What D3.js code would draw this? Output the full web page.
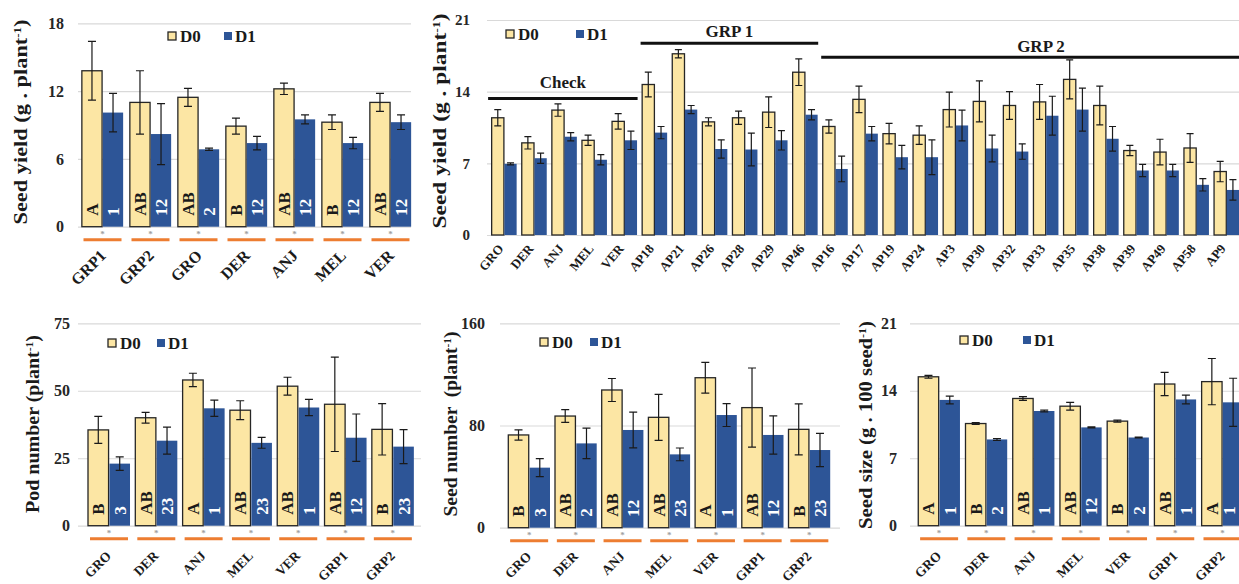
<!DOCTYPE html>
<html>
<head>
<meta charset="utf-8">
<script src="https://cdn.jsdelivr.net/npm/d3@7"></script>
<style>
  body { margin: 0; background: #fff; }
  svg { display: block; }
  svg text { font-family: "Liberation Serif", "DejaVu Serif", "Times New Roman", serif; font-weight: bold; }
</style>
</head>
<body>
<script>
// ---- seed yield, group means (top left)
var grpCats = ["GRP1", "GRP2", "GRO", "DER", "ANJ", "MEL", "VER"];
var grpYieldD0 = [13.8, 11.0, 11.45, 8.9, 12.2, 9.25, 11.0];
var grpYieldD0Err = [2.6, 2.8, 0.8, 0.7, 0.5, 0.65, 0.8];
var grpYieldD1 = [10.1, 8.2, 6.85, 7.4, 9.5, 7.4, 9.25];
var grpYieldD1Err = [1.7, 2.7, 0.1, 0.6, 0.4, 0.5, 0.65];
var grpYieldD0Lab = ["A", "AB", "AB", "B", "AB", "B", "AB"];
var grpYieldD1Lab = ["1", "12", "2", "12", "12", "12", "12"];

// ---- seed yield per genotype (top right)
var genoCats = ["GRO", "DER", "ANJ", "MEL", "VER", "AP18", "AP21", "AP26", "AP28", "AP29", "AP46",
  "AP16", "AP17", "AP19", "AP24", "AP3", "AP30", "AP32", "AP33", "AP35", "AP38", "AP39", "AP49", "AP58", "AP9"];
var genoD0 = [11.45, 9.0, 12.2, 9.25, 11.1, 14.7, 17.7, 11.05, 11.45, 12.0, 15.9,
  10.6, 13.25, 9.9, 9.75, 12.25, 13.05, 12.65, 13.0, 15.2, 12.65, 8.25, 8.1, 8.5, 6.2];
var genoD0Err = [0.8, 0.6, 0.6, 0.5, 0.75, 1.2, 0.4, 0.4, 0.65, 1.5, 1.3,
  0.65, 1.3, 1.0, 0.9, 1.7, 2.0, 1.35, 1.7, 1.9, 1.9, 0.5, 1.25, 1.4, 1.0];
var genoD1 = [6.95, 7.5, 9.6, 7.35, 9.25, 10.0, 12.25, 8.4, 8.35, 9.25, 11.75,
  6.45, 9.9, 7.6, 7.6, 10.7, 8.45, 8.15, 11.65, 12.25, 9.4, 6.3, 6.3, 4.9, 4.4];
var genoD1Err = [0.1, 0.5, 0.4, 0.5, 0.9, 0.6, 0.4, 0.9, 1.6, 0.95, 0.5,
  1.25, 0.7, 1.15, 1.7, 1.5, 1.3, 0.75, 1.9, 2.1, 1.2, 0.6, 0.6, 0.6, 1.0];
var genoGroups = [
  {name: "Check", from: 0, to: 4},
  {name: "GRP 1", from: 5, to: 10},
  {name: "GRP 2", from: 11, to: 24}
];

// ---- bottom row categories
var compCats = ["GRO", "DER", "ANJ", "MEL", "VER", "GRP1", "GRP2"];

var podD0 = [35.5, 40, 54, 42.8, 51.7, 45, 35.7];
var podD0Err = [5, 2, 2.5, 3.5, 3.3, 17.5, 9.5];
var podD1 = [23, 31.5, 43.5, 30.7, 43.8, 32.6, 29.3];
var podD1Err = [2.5, 5, 3, 2, 3, 8.8, 6.3];
var podD0Lab = ["B", "AB", "A", "AB", "AB", "AB", "B"];
var podD1Lab = ["3", "23", "1", "23", "1", "12", "23"];

var seedD0 = [72.6, 87.4, 107.8, 86.4, 117.4, 94, 77];
var seedD0Err = [4, 5, 9, 18, 12, 31, 20];
var seedD1 = [47, 66, 76.5, 57.4, 88.2, 72.6, 60.8];
var seedD1Err = [7, 12, 14, 5, 9, 15, 13];
var seedD0Lab = ["B", "AB", "AB", "AB", "A", "AB", "B"];
var seedD1Lab = ["3", "2", "12", "23", "1", "12", "23"];

var sizeD0 = [15.45, 10.6, 13.2, 12.4, 10.85, 14.7, 14.95];
var sizeD0Err = [0.15, 0.1, 0.2, 0.4, 0.1, 1.2, 2.4];
var sizeD1 = [13.05, 8.95, 11.9, 10.2, 9.15, 13.1, 12.8];
var sizeD1Err = [0.4, 0.1, 0.1, 0.05, 0.05, 0.45, 2.5];
var sizeD0Lab = ["A", "B", "AB", "AB", "B", "AB", "A"];
var sizeD1Lab = ["1", "2", "1", "12", "2", "1", "1"];

var colD0 = "#FCE6A4", colD1 = "#2D5597", colOrange = "#ED7D31";
var serif = "'Liberation Serif', 'DejaVu Serif', 'Times New Roman', serif";
var W = 1239, H = 584;

var svg = d3.select("body").append("svg")
  .attr("width", W)
  .attr("height", H)
  .attr("font-family", serif)
  .attr("font-weight", "bold");

function drawPanel(o) {
  var g = svg.append("g");

  var x = d3.scaleBand().domain(o.cats).range(o.xr).paddingInner(o.pad).paddingOuter(o.pad / 2);
  var xs = d3.scaleBand().domain(["D0", "D1"]).range([0, x.bandwidth()]).paddingInner(0.04);
  var y = d3.scaleLinear().domain([0, o.max]).range([o.base, o.top]);

  // grid + tick labels
  var axis = d3.axisLeft(y).tickValues(o.ticks)
    .tickSize(-(o.gx[1] - o.gx[0])).tickPadding(o.tp).tickFormat(d3.format("d"));
  var ax = g.append("g").attr("transform", "translate(" + o.gx[0] + ",0)").call(axis)
    .attr("font-family", serif).attr("font-size", null);
  ax.select(".domain").remove();
  ax.selectAll(".tick line").attr("stroke", "#d9d9d9").attr("stroke-width", 1.2);
  ax.selectAll(".tick text").attr("font-size", o.tickSize || 16).attr("fill", "#262626");

  var rows = o.cats.map(function(c, i) {
    return {cat: c, vals: [
      {k: "D0", v: o.d0[i], e: o.e0[i], lab: o.l0 ? o.l0[i] : null},
      {k: "D1", v: o.d1[i], e: o.e1[i], lab: o.l1 ? o.l1[i] : null}
    ]};
  });

  var grp = g.selectAll(".grp").data(rows).enter().append("g")
    .attr("transform", function(d) { return "translate(" + x(d.cat) + ",0)"; });

  var bar = grp.selectAll(".bar").data(function(d) { return d.vals; }).enter().append("g");

  bar.append("rect")
    .attr("x", function(d) { return xs(d.k); })
    .attr("y", function(d) { return y(d.v); })
    .attr("width", xs.bandwidth())
    .attr("height", function(d) { return o.base - y(d.v); })
    .attr("fill", function(d) { return d.k === "D0" ? colD0 : colD1; })
    .attr("stroke", function(d) { return d.k === "D0" ? "#262626" : "none"; })
    .attr("stroke-width", 1.3);

  // error bars
  var cap = o.cap || 4;
  bar.append("path")
    .attr("d", function(d) {
      var cx = xs(d.k) + xs.bandwidth() / 2, y0 = y(d.v - d.e), y1 = y(d.v + d.e);
      return "M" + cx + "," + y0 + "V" + y1 +
        "M" + (cx - cap) + "," + y1 + "H" + (cx + cap) +
        "M" + (cx - cap) + "," + y0 + "H" + (cx + cap);
    })
    .attr("stroke", "#1a1a1a").attr("stroke-width", 1.2).attr("fill", "none");

  // letters inside bars (kept inside the picture where the bar runs off the edge)
  if (o.l0) {
    bar.append("text")
      .attr("transform", function(d) {
        var p = d3.select(this.parentNode.parentNode).datum();
        var cx = xs(d.k) + xs.bandwidth() / 2;
        cx = Math.min(cx, W - 10 - x(p.cat));
        return "translate(" + cx + "," + (o.base - 11) + ") rotate(-90)";
      })
      .attr("dy", "0.35em")
      .attr("font-size", 17)
      .attr("fill", function(d) { return d.k === "D0" ? "#1a1a1a" : "#fff"; })
      .text(function(d) { return d.lab; });
  }

  // asterisk + orange line under each pair
  if (o.marks) {
    grp.append("text")
      .attr("x", x.bandwidth() / 2).attr("y", o.base + 10)
      .attr("text-anchor", "middle").attr("font-size", 9).attr("fill", "#a0a0a0")
      .text("*");
    grp.append("line")
      .attr("x1", x.bandwidth() / 2 - 19).attr("x2", x.bandwidth() / 2 + 19)
      .attr("y1", o.base + 13).attr("y2", o.base + 13)
      .attr("stroke", colOrange).attr("stroke-width", 3);
  }

  // category labels
  grp.append("text")
    .attr("transform", "translate(" + (x.bandwidth() / 2 + o.lx) + "," + (o.base + o.ly) + ") rotate(" + (-o.angle) + ")")
    .attr("text-anchor", "end")
    .attr("font-size", o.catSize)
    .attr("fill", "#1a1a1a")
    .text(function(d) { return d.cat; });

  // y label
  var yl = g.append("text")
    .attr("transform", "translate(" + o.yl.x + "," + o.yl.y + ") rotate(-90)")
    .attr("text-anchor", "middle")
    .attr("font-size", 19)
    .attr("fill", "#1a1a1a")
    .attr("textLength", o.yl.len)
    .attr("lengthAdjust", "spacingAndGlyphs")
    .style("white-space", "pre");
  yl.append("tspan").text(o.yl.text);
  yl.append("tspan").attr("baseline-shift", "super").attr("font-size", 11).text("-1");
  yl.append("tspan").text(")");

  // legend
  var lg = g.append("g").attr("transform", "translate(" + o.lg[0] + "," + o.lg[1] + ")");
  lg.append("rect").attr("x", 0).attr("y", -4).attr("width", 8).attr("height", 8)
    .attr("fill", colD0).attr("stroke", "#262626").attr("stroke-width", 1.3);
  lg.append("text").attr("x", 12).attr("y", 6).attr("font-size", 17).attr("fill", "#1a1a1a").text("D0");
  lg.append("rect").attr("x", o.lg[2]).attr("y", -4).attr("width", 8).attr("height", 8)
    .attr("fill", colD1);
  lg.append("text").attr("x", o.lg[2] + 11).attr("y", 6).attr("font-size", 17).attr("fill", "#1a1a1a").text("D1");

  return x;
}

drawPanel({
  cats: grpCats, d0: grpYieldD0, e0: grpYieldD0Err, d1: grpYieldD1, e1: grpYieldD1Err,
  l0: grpYieldD0Lab, l1: grpYieldD1Lab, marks: true,
  xr: [78.5, 414.5], pad: 0.14, base: 226.7, top: 23.3, max: 18, ticks: [0, 6, 12, 18],
  gx: [78, 411], tp: 14, cap: 4,
  lx: 4.5, ly: 30, angle: 45, catSize: 16,
  yl: {x: 27, y: 122, len: 205, text: "Seed yield (g . plant"},
  lg: [168, 36, 56]
});

var xg = drawPanel({
  cats: genoCats, d0: genoD0, e0: genoD0Err, d1: genoD1, e1: genoD1Err,
  xr: [489.1, 1241.6], pad: 0.17, base: 235, top: 20, max: 21, ticks: [0, 7, 14, 21],
  gx: [487, 1239], tp: 17, cap: 3.5, tickSize: 15,
  lx: 0, ly: 14, angle: 50, catSize: 13,
  yl: {x: 446, y: 121, len: 215, text: "Seed yield (g . plant"},
  lg: [506, 34, 70]
});

// group brackets over the genotype chart
var brY = [98.5, 43.3, 57.3], brTxt = [88, 37, 52];
var step = xg.step(), gx0 = xg.range()[0];
genoGroups.forEach(function(gr, i) {
  var x1 = gx0 + step * gr.from - 1, x2 = Math.min(gx0 + step * (gr.to + 1) - 2, W);
  if (i === 2) x2 = W;
  if (i > 0) x1 += 2;
  svg.append("line").attr("x1", x1).attr("x2", x2).attr("y1", brY[i]).attr("y2", brY[i])
    .attr("stroke", "#111").attr("stroke-width", 3);
  var cx = i === 2 ? 1041 : (x1 + x2) / 2;
  svg.append("text").attr("x", cx).attr("y", brTxt[i]).attr("text-anchor", "middle")
    .attr("font-size", 17).attr("fill", "#1a1a1a").text(gr.name);
});

drawPanel({
  cats: compCats, d0: podD0, e0: podD0Err, d1: podD1, e1: podD1Err,
  l0: podD0Lab, l1: podD1Lab, marks: true,
  xr: [85.35, 416.5], pad: 0.112, base: 525.7, top: 323.3, max: 75, ticks: [0, 25, 50, 75],
  gx: [78, 421], tp: 8, cap: 4,
  lx: 3, ly: 31, angle: 45, catSize: 13.5,
  yl: {x: 39, y: 424, len: 178, text: "Pod number (plant"},
  lg: [108, 343, 49]
});

drawPanel({
  cats: compCats, d0: seedD0, e0: seedD0Err, d1: seedD1, e1: seedD1Err,
  l0: seedD0Lab, l1: seedD1Lab, marks: true,
  xr: [505.8, 832.7], pad: 0.107, base: 527.7, top: 323.3, max: 160, ticks: [0, 80, 160],
  gx: [500, 840], tp: 15, cap: 4,
  lx: 3, ly: 29.5, angle: 45, catSize: 13.5,
  yl: {x: 457, y: 424, len: 185, text: "Seed number  (plant"},
  lg: [540, 342, 50]
});

drawPanel({
  cats: compCats, d0: sizeD0, e0: sizeD0Err, d1: sizeD1, e1: sizeD1Err,
  l0: sizeD0Lab, l1: sizeD1Lab, marks: true,
  xr: [915.5, 1246.1], pad: 0.117, base: 525.7, top: 323.3, max: 21, ticks: [0, 7, 14, 21],
  gx: [910, 1239], tp: 13, cap: 4,
  lx: 3, ly: 31, angle: 45, catSize: 13.5,
  yl: {x: 872, y: 425, len: 208, text: "Seed size (g . 100 seed"},
  lg: [960, 340, 63]
});
</script>
</body>
</html>
